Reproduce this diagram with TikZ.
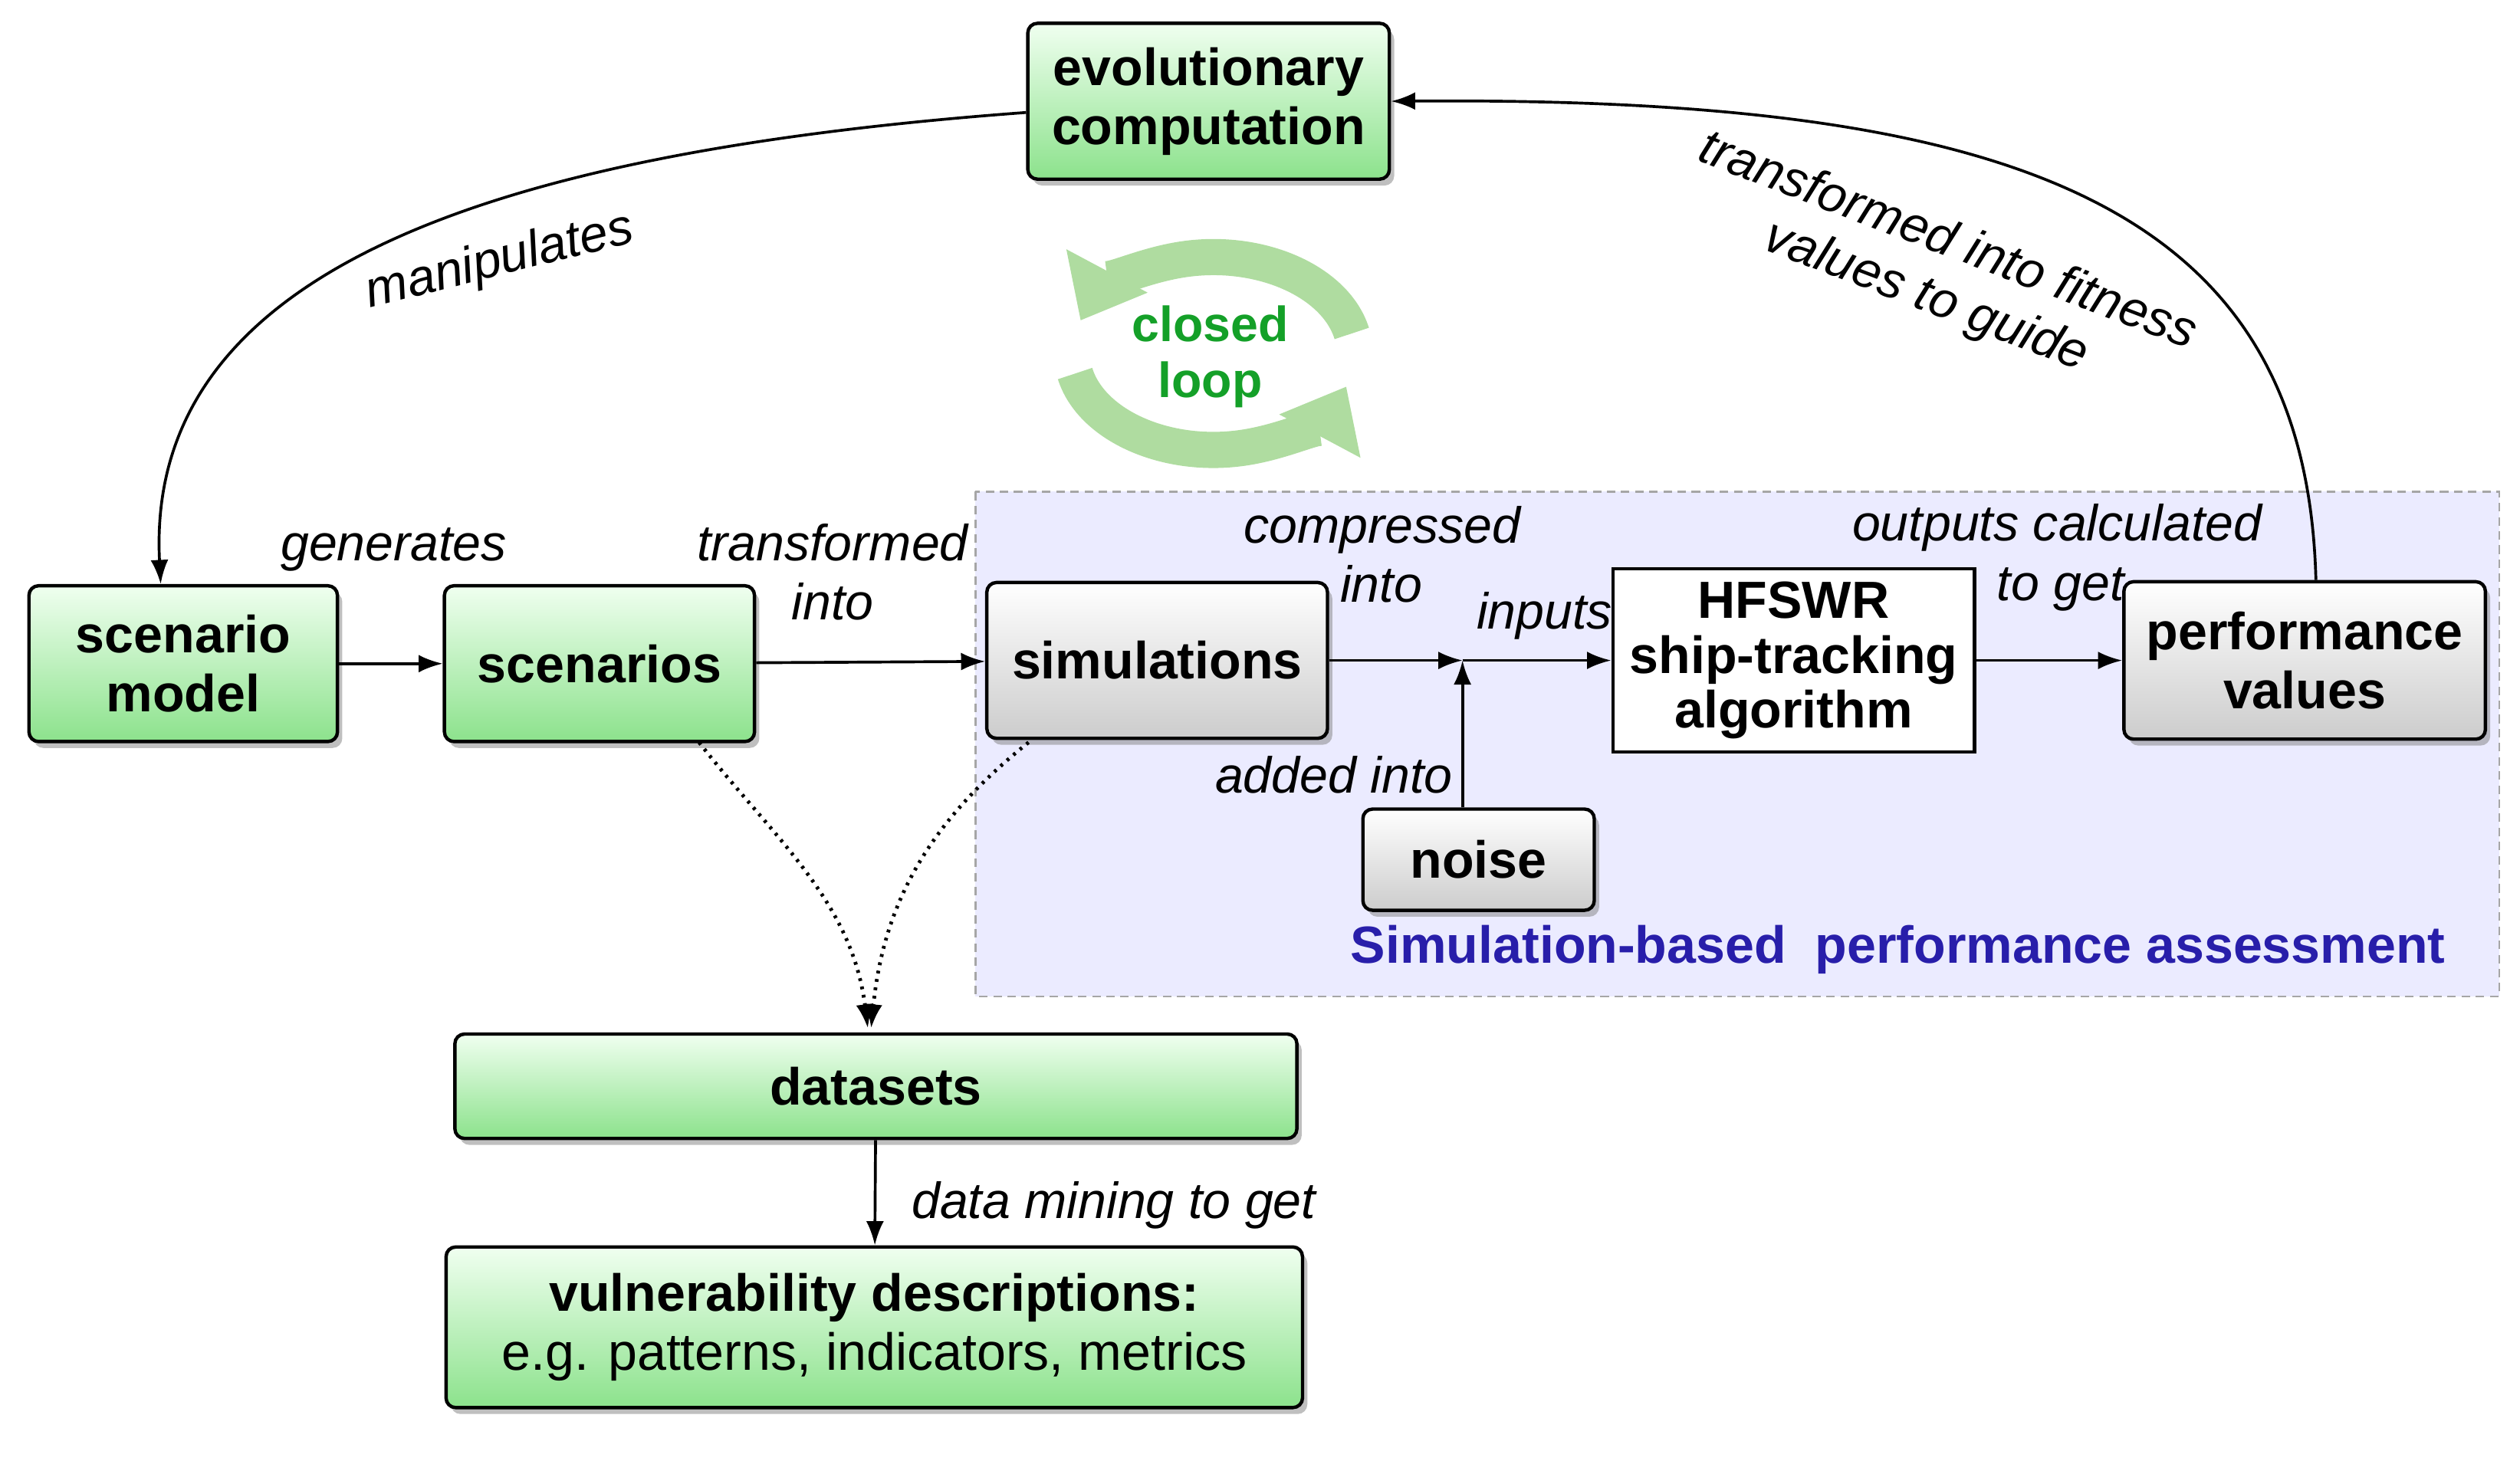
\documentclass[tikz,border=0pt]{standalone}
\usepackage{fontspec}
\setmainfont{Liberation Sans}
\usetikzlibrary{shadows,arrows.meta,positioning}
\begin{document}
\begin{tikzpicture}[x=0.02cm,y=-0.02cm,
 box/.style={draw=black,line width=1.2pt,rounded corners=0.12cm,align=center,font=\fontsize{18.5}{21}\selectfont\bfseries,inner sep=0pt,drop shadow={shadow xshift=0.06cm,shadow yshift=-0.08cm,opacity=0.5}},
 gbox/.style={box,top color=green!6,bottom color={rgb,255:red,140;green,226;blue,140}},
 gybox/.style={box,top color=white,bottom color=gray!40},
 lab/.style={font=\fontsize{18}{21}\selectfont\itshape,align=center},
 arr/.style={-{Latex[length=0.3cm,width=0.22cm]},line width=1pt},
]
\useasboundingbox (0,0) rectangle (1568,909);
\fill[blue!8] (607,306) rectangle (1555,620);
\draw[densely dashed,gray!70,line width=0.6pt] (607,306) rectangle (1555,620);
\node[font=\fontsize{18.5}{21}\selectfont\bfseries,text={rgb,255:red,40;green,30;blue,170}] (sba) at (1181,591) {Simulation-based\ \ performance assessment};

\node[gbox,minimum width=4.5cm,minimum height=1.94cm] (evo) at (752,63) {evolutionary\\computation};
\node[gbox,minimum width=3.84cm,minimum height=1.94cm] (sm) at (114,413) {scenario\\model};
\node[gbox,minimum width=3.86cm,minimum height=1.94cm] (sc) at (373,413) {scenarios};
\node[gybox,minimum width=4.24cm,minimum height=1.94cm] (sim) at (720,411) {simulations};
\node[draw=black,fill=white,line width=1.2pt,align=center,font=\fontsize{18.5}{19.5}\selectfont\bfseries,inner sep=0pt,minimum width=4.5cm,minimum height=2.28cm] (hf) at (1116,411) {HFSWR\\ship-tracking\\algorithm};
\node[gybox,minimum width=4.5cm,minimum height=1.96cm] (pv) at (1434,411) {performance\\values};
\node[gybox,minimum width=2.88cm,minimum height=1.26cm] (noise) at (920,535) {noise};
\node[gbox,minimum width=10.48cm,minimum height=1.3cm] (ds) at (545,676) {datasets};
\node[gbox,minimum width=10.66cm,minimum height=2cm] (vd) at (544,826) {vulnerability descriptions:\\\mdseries e.g. patterns, indicators, metrics};
\coordinate (j) at (910,411);

\draw[arr] (evo.west) ++(0,7) .. controls (300,95) and (90,170) .. (sm.north -| 100,0);
\draw[arr] (pv.north -| 1441,0) .. controls (1435,130) and (1260,60) .. (evo.east);
\draw[arr] (sm) -- (sc);
\draw[arr] (sc) -- (sim);
\draw[arr] (sim) -- (j);
\draw[arr] (j) -- (hf);
\draw[arr] (noise.north -| j) -- (j);
\draw[arr] (hf) -- (pv);
\draw[arr] (ds) -- (vd);
\draw[arr,dotted,line width=1.3pt] (435,462) .. controls (480,520) and (530,560) .. (540,640);
\draw[arr,dotted,line width=1.3pt] (640,462) .. controls (580,510) and (550,560) .. (542,640);

\node[lab,rotate=14] (l1) at (311,163) {manipulates};
\node[lab,rotate=-21] (l2) at (1205,168) {transformed into fitness\\values to guide};
\node[lab] (l3) at (245,342) {generates};
\node[lab] (l4) at (518,356) {transformed\\into};
\node[lab,align=left] (l5) at (860,345) {compressed\\\hspace*{1.2cm}into};
\node[lab] (l6) at (961,383) {inputs};
\node[lab] (l7) at (830,482) {added into};
\node[lab,align=left] (l8) at (1280,347) {outputs calculated\\\hspace*{1.8cm}to get};
\node[lab] (l9) at (693,750) {data mining to get};

\begin{scope}[line width=0.45cm]
\draw[draw={rgb,255:red,175;green,220;blue,160},-{Triangle[length=0.7cm,width=1.1cm]}] (755,220) ++(-12:88 and 60) arc (-12:-160:88 and 60);
\draw[draw={rgb,255:red,175;green,220;blue,160},-{Triangle[length=0.7cm,width=1.1cm]}] (755,220) ++(-192:88 and 60) arc (-192:-340:88 and 60);
\end{scope}
\node[font=\fontsize{17.5}{20}\selectfont\bfseries,text={rgb,255:red,20;green,160;blue,40},align=center] (cl) at (753,222) {closed\\loop};
\end{tikzpicture}
\end{document}
